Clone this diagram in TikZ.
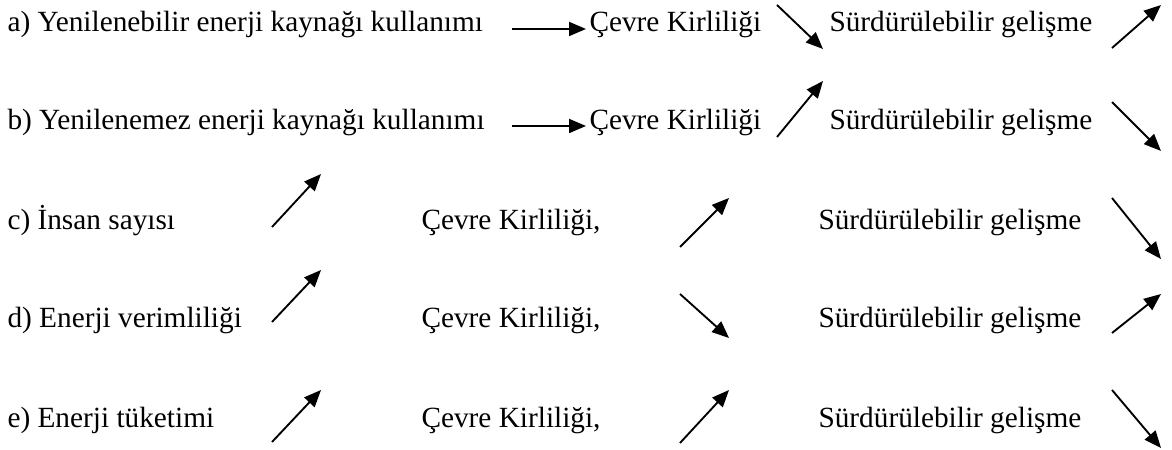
\documentclass[tikz,border=0pt]{standalone}
\usepackage{fontspec}
\setmainfont{Liberation Serif}
\usepackage{tikz}
\usetikzlibrary{arrows.meta}

\begin{document}
\begin{tikzpicture}[x = 0.4pt, y = -0.4pt,
  every node/.style = {inner sep = 0pt, anchor = base west,
    font = \fontsize{11.72}{14}\selectfont},
  trend/.style = {line width = 0.75pt,
    -{Triangle[length = 6.8pt, width = 5.6pt]}}]
\useasboundingbox (0, 0) rectangle (1172, 450);
% left column
\node (ta) at (7, 32) {a) Yenilenebilir enerji kaynağı kullanımı};
\node (tb) at (7, 130) {b) Yenilenemez enerji kaynağı kullanımı};
\node (tc) at (7, 230) {c) İnsan sayısı};
\node (td) at (7, 328) {d) Enerji verimliliği};
\node (te) at (7, 428) {e) Enerji tüketimi};
% middle column
\node (ca) at (589, 32) {Çevre Kirliliği};
\node (cb) at (589, 130) {Çevre Kirliliği};
\node (cc) at (421, 230) {Çevre Kirliliği,};
\node (cd) at (421, 328) {Çevre Kirliliği,};
\node (ce) at (421, 428) {Çevre Kirliliği,};
% right column
\node (sa) at (829, 32) {Sürdürülebilir gelişme};
\node (sb) at (829, 130) {Sürdürülebilir gelişme};
\node (sc) at (818, 230) {Sürdürülebilir gelişme};
\node (sd) at (818, 328) {Sürdürülebilir gelişme};
\node (se) at (818, 428) {Sürdürülebilir gelişme};
% arrow ends
\path (512, 29) coordinate (ha0) (586, 29) coordinate (ha1);
\path (512, 126) coordinate (hb0) (586, 126) coordinate (hb1);
\path (777, 5) coordinate (ma0) (823, 49) coordinate (ma1);
\path (777, 137) coordinate (mb0) (823, 81) coordinate (mb1);
\path (1112, 48) coordinate (ra0) (1161, 5) coordinate (ra1);
\path (1112, 102) coordinate (rb0) (1161, 151) coordinate (rb1);
\path (272, 227) coordinate (lc0) (321, 174) coordinate (lc1);
\path (272, 322) coordinate (ld0) (321, 270) coordinate (ld1);
\path (272, 442) coordinate (le0) (321, 390) coordinate (le1);
\path (680, 247) coordinate (mc0) (729, 198) coordinate (mc1);
\path (680, 294) coordinate (md0) (729, 338) coordinate (md1);
\path (680, 443) coordinate (me0) (729, 390) coordinate (me1);
\path (1112, 198) coordinate (rc0) (1161, 259) coordinate (rc1);
\path (1112, 333) coordinate (rd0) (1161, 294) coordinate (rd1);
\path (1112, 390) coordinate (re0) (1161, 448) coordinate (re1);
% arrows
\draw [trend] (ha0) -- (ha1);
\draw [trend] (hb0) -- (hb1);
\draw [trend] (ma0) -- (ma1);
\draw [trend] (mb0) -- (mb1);
\draw [trend] (ra0) -- (ra1);
\draw [trend] (rb0) -- (rb1);
\draw [trend] (lc0) -- (lc1);
\draw [trend] (ld0) -- (ld1);
\draw [trend] (le0) -- (le1);
\draw [trend] (mc0) -- (mc1);
\draw [trend] (md0) -- (md1);
\draw [trend] (me0) -- (me1);
\draw [trend] (rc0) -- (rc1);
\draw [trend] (rd0) -- (rd1);
\draw [trend] (re0) -- (re1);
\end{tikzpicture}
\end{document}
